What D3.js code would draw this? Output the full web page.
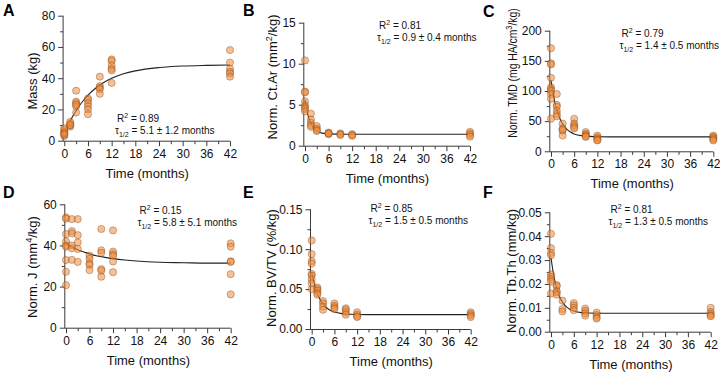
<!DOCTYPE html>
<html>
<head>
<meta charset="utf-8">
<script src="https://cdn.jsdelivr.net/npm/d3@7"></script>
<style>
  body { margin: 0; background: #fff; }
  svg { display: block; font-family: Arial, "Liberation Sans", Helvetica, sans-serif; }
</style>
</head>
<body>
<svg id="chart" width="720" height="375"></svg>
<script>
// sampling times (months)
const months = [0, 1.5, 3, 6, 9, 12, 42];

// measured values, one list per time point
const massKg = [
  [3, 4, 5, 6, 7, 8, 5, 4],
  [9, 10, 11, 12, 10],
  [32, 25, 24, 22, 18, 23],
  [27, 26, 24, 22, 20, 17],
  [41, 35, 34, 33, 30],
  [52, 51, 48, 46, 45, 37],
  [58, 50, 46, 44, 43, 41]
];
const ctAr = [
  [10.4, 6.6, 6.5, 5.4, 4.9, 4.7, 4.5, 4.2],
  [3.9, 3.2, 2.8, 2.5, 2.3],
  [2.4, 2.1, 1.9, 1.8],
  [1.6, 1.5, 1.4, 1.5],
  [1.5, 1.4, 1.3],
  [1.4, 1.3, 1.2],
  [1.7, 1.5, 1.3, 1.1]
];
const tmd = [
  [171, 146, 144, 122, 106, 103, 100, 95, 87, 54],
  [95, 77, 74, 67, 62, 58],
  [46, 38, 34, 26, 36],
  [54, 46, 43, 40, 38],
  [32, 29, 27, 25, 24],
  [26, 23, 21, 19, 18],
  [26, 24, 22, 20, 18]
];
const polarJ = [
  [53.6, 53, 45.5, 42, 40, 39.4, 32.9, 27.2, 20.7],
  [52.8, 47, 45.9, 40, 38.6, 33],
  [52.8, 45, 41.5, 38.3, 32],
  [35, 33.5, 31.3, 30.5, 28],
  [48, 37.6, 36.4, 28.5, 27.7, 24.8],
  [47.3, 37, 35.8, 35, 32.2, 27],
  [41, 39.4, 32.3, 32, 26, 16.2]
];
const bvtv = [
  [0.111, 0.094, 0.085, 0.082, 0.069, 0.067, 0.062, 0.057, 0.050],
  [0.052, 0.050, 0.048, 0.045, 0.043],
  [0.035, 0.032, 0.028, 0.024],
  [0.032, 0.029, 0.027, 0.025],
  [0.026, 0.024, 0.021, 0.018],
  [0.021, 0.018, 0.016, 0.015],
  [0.021, 0.019, 0.017, 0.015]
];
const tbTh = [
  [0.041, 0.035, 0.033, 0.032, 0.024, 0.023, 0.022, 0.021, 0.016],
  [0.0195, 0.019, 0.017, 0.0165, 0.0155],
  [0.013, 0.0095, 0.0085],
  [0.012, 0.011, 0.010, 0.009],
  [0.0097, 0.0087, 0.0077, 0.0067],
  [0.008, 0.007, 0.006, 0.0055],
  [0.0100, 0.0083, 0.0075, 0.0068, 0.0065]
];

// fitted curves
const fitMonths = [0, 0.5, 1, 1.5, 2, 3, 4, 5, 6, 8, 10, 12, 15, 18, 24, 30, 36, 42];
const massFit = [4.5, 7.4, 10.1, 12.6, 15.0, 19.2, 23.0, 26.2, 29.1, 33.7, 37.2, 39.9, 42.8, 44.7, 46.8, 47.8, 48.2, 48.4];
const ctArFit = [5.6, 4.26, 3.34, 2.72, 2.30, 1.82, 1.59, 1.49, 1.44, 1.41, 1.4, 1.4, 1.4, 1.4, 1.4, 1.4, 1.4, 1.4];
const tmdFit = [118, 97.4, 81.3, 68.7, 59.0, 45.3, 37.0, 31.9, 28.8, 25.8, 24.7, 24.2, 24, 24, 24, 24, 24, 24];
const polarJFit = [40.8, 40.2, 39.7, 39.2, 38.8, 37.9, 37.2, 36.5, 35.9, 34.9, 34.2, 33.6, 32.9, 32.4, 31.8, 31.6, 31.4, 31.4];
const bvtvFit = [0.071, 0.0601, 0.0514, 0.0445, 0.0390, 0.0313, 0.0263, 0.0232, 0.0213, 0.0193, 0.0185, 0.0182, 0.018, 0.018, 0.018, 0.018, 0.018, 0.018];
const tbThFit = [0.031, 0.0256, 0.0214, 0.0182, 0.0157, 0.0124, 0.0105, 0.0093, 0.0087, 0.0080, 0.0078, 0.0077, 0.0077, 0.0077, 0.0077, 0.0077, 0.0077, 0.0077];

// tick labels
const xTicks = [0, 6, 12, 18, 24, 30, 36, 42];
const xMinor = [3, 9, 15, 21, 27, 33, 39];

const sup = t => ({ t, sup: true });
const sub = t => ({ t, sub: true });

const panels = [
  { letter: 'A', values: massKg, fit: massFit, yMax: 80, yStep: 20, yMinor: 10, fmt: d3.format('d'),
    yLabel: [{ t: 'Mass (kg)' }], ylSize: 13, ylScale: 1, r2: '0.89', tau: '5.1 ± 1.2',
    x0: 64.3, x1: 230, top: 15.7, bot: 140.7, tx: 117, ty: 121.5, letX: 3, letY: 16, ylx: 37, yly: 81 },
  { letter: 'B', values: ctAr, fit: ctArFit, yMax: 15, yStep: 5, yMinor: 2.5, fmt: d3.format('d'),
    yLabel: [{ t: 'Norm. Ct.Ar (mm' }, sup('2'), { t: '/kg)' }], ylSize: 13, ylScale: 1, r2: '0.81', tau: '0.9 ± 0.4',
    x0: 305, x1: 470, top: 22.7, bot: 145.7, tx: 379, ty: 28.5, letX: 243, letY: 16, ylx: 277, yly: 77 },
  { letter: 'C', values: tmd, fit: tmdFit, yMax: 200, yStep: 50, yMinor: 25, fmt: d3.format('d'),
    yLabel: [{ t: 'Norm. TMD (mg HA/cm' }, sup('3'), { t: '/kg)' }], ylSize: 12.5, ylScale: 0.83, r2: '0.79', tau: '1.4 ± 0.5',
    x0: 551, x1: 713.3, top: 30.7, bot: 151.3, tx: 621.5, ty: 36.5, letX: 483, letY: 17, ylx: 517, yly: 73 },
  { letter: 'D', values: polarJ, fit: polarJFit, yMax: 60, yStep: 20, yMinor: 10, fmt: d3.format('d'),
    yLabel: [{ t: 'Norm. J (mm' }, sup('4'), { t: '/kg)' }], ylSize: 13, ylScale: 1, r2: '0.15', tau: '5.8 ± 5.1',
    x0: 66, x1: 230.7, top: 204.3, bot: 327.7, tx: 139.5, ty: 213.5, letX: 3, letY: 198, ylx: 37, yly: 267 },
  { letter: 'E', values: bvtv, fit: bvtvFit, yMax: 0.15, yStep: 0.05, yMinor: 0.025, fmt: d3.format('.2f'),
    yLabel: [{ t: 'Norm. BV/TV (%/kg)' }], ylSize: 13, ylScale: 1, r2: '0.85', tau: '1.5 ± 0.5',
    x0: 311.7, x1: 470.7, top: 209.3, bot: 329, tx: 370.5, ty: 212, letX: 243, letY: 198, ylx: 276, yly: 268 },
  { letter: 'F', values: tbTh, fit: tbThFit, yMax: 0.05, yStep: 0.01, yMinor: 0.005, fmt: d3.format('.2f'),
    yLabel: [{ t: 'Norm. Tb.Th (mm/kg)' }], ylSize: 13, ylScale: 1, r2: '0.81', tau: '1.3 ± 0.5',
    x0: 551, x1: 710.7, top: 212.3, bot: 331.7, tx: 610.5, ty: 212.5, letX: 483, letY: 198, ylx: 516, yly: 271 }
];

const axisColor = '#3a3a3a';

// writes parts with super/subscripts as tspans
function rich(text, parts, size) {
  let shift = 0;
  parts.forEach(p => {
    const target = p.sup ? -0.38 * size : p.sub ? 0.3 * size : 0;
    text.append('tspan')
      .attr('dy', target - shift)
      .style('font-size', (p.sup || p.sub) ? `${size * 0.7}px` : `${size}px`)
      .text(p.t);
    shift = target;
  });
}

const svg = d3.select('#chart');

panels.forEach(p => {
  const x = d3.scaleLinear().domain([0, 42]).range([p.x0, p.x1]);
  const y = d3.scaleLinear().domain([0, p.yMax]).range([p.bot, p.top]);
  const g = svg.append('g');
  const yAxisX = p.x0 - 1.2;

  const yMajor = d3.range(0, p.yMax + p.yStep / 2, p.yStep);
  const yMinorVals = d3.range(p.yMinor, p.yMax, p.yMinor)
    .filter(v => yMajor.every(m => Math.abs(m - v) > 1e-9));

  // x axis
  const xg = g.append('g').attr('transform', `translate(0,${p.bot + 0.5})`);
  xg.append('line')
    .attr('x1', yAxisX).attr('x2', x(42))
    .attr('stroke', axisColor);
  xg.call(d3.axisBottom(x).tickValues(xTicks).tickSize(5).tickPadding(3).tickFormat(d3.format('d')))
    .call(a => a.select('.domain').remove());
  xg.append('g')
    .call(d3.axisBottom(x).tickValues(xMinor).tickSize(3).tickFormat(''))
    .call(a => a.select('.domain').remove());

  // y axis
  const yg = g.append('g').attr('transform', `translate(${yAxisX},0)`);
  yg.append('line')
    .attr('y1', p.bot + 0.5).attr('y2', y(p.yMax))
    .attr('stroke', axisColor);
  yg.call(d3.axisLeft(y).tickValues(yMajor).tickSize(5).tickPadding(3).tickFormat(p.fmt))
    .call(a => a.select('.domain').remove());
  yg.append('g')
    .call(d3.axisLeft(y).tickValues(yMinorVals).tickSize(3).tickFormat(''))
    .call(a => a.select('.domain').remove());

  g.selectAll('.tick line').attr('stroke', axisColor);
  g.selectAll('.tick text')
    .attr('fill', '#111')
    .style('font-size', '12px')
    .style('font-family', 'Arial, "Liberation Sans", Helvetica, sans-serif');

  // fit curve
  const line = d3.line()
    .x((d, i) => x(fitMonths[i]))
    .y(d => y(d))
    .curve(d3.curveMonotoneX);
  g.append('path')
    .attr('d', line(p.fit))
    .attr('fill', 'none')
    .attr('stroke', '#222')
    .attr('stroke-width', 1.1);

  // points
  const pts = [];
  months.forEach((m, i) => p.values[i].forEach(v => pts.push({ m, v })));
  g.append('g')
    .selectAll('circle')
    .data(pts)
    .join('circle')
    .attr('cx', d => x(d.m))
    .attr('cy', d => y(d.v))
    .attr('r', 3.6)
    .attr('fill', 'rgba(240,140,60,0.55)')
    .attr('stroke', 'rgba(110,55,15,0.45)')
    .attr('stroke-width', 0.8);

  // titles
  g.append('text')
    .attr('x', (p.x0 + p.x1) / 2)
    .attr('y', p.bot + 37)
    .attr('text-anchor', 'middle')
    .style('font-size', '13px')
    .attr('fill', '#111')
    .text('Time (months)');

  const yl = g.append('text')
    .attr('transform', `translate(${p.ylx},${p.yly}) rotate(-90) scale(${p.ylScale},1)`)
    .attr('text-anchor', 'middle')
    .attr('fill', '#111');
  rich(yl, p.yLabel, p.ylSize);

  g.append('text')
    .attr('x', p.letX)
    .attr('y', p.letY)
    .style('font-size', '16px')
    .style('font-weight', 'bold')
    .attr('fill', '#000')
    .text(p.letter);

  // stats
  const r2 = g.append('text').attr('x', p.tx).attr('y', p.ty).attr('fill', '#111');
  rich(r2, [{ t: 'R' }, sup('2'), { t: ` = ${p.r2}` }], 10);
  const tau = g.append('text').attr('x', p.tx - 2).attr('y', p.ty + 12).attr('fill', '#111');
  rich(tau, [{ t: 'τ' }, sub('1/2'), { t: ` = ${p.tau} months` }], 10);
});
</script>
</body>
</html>
